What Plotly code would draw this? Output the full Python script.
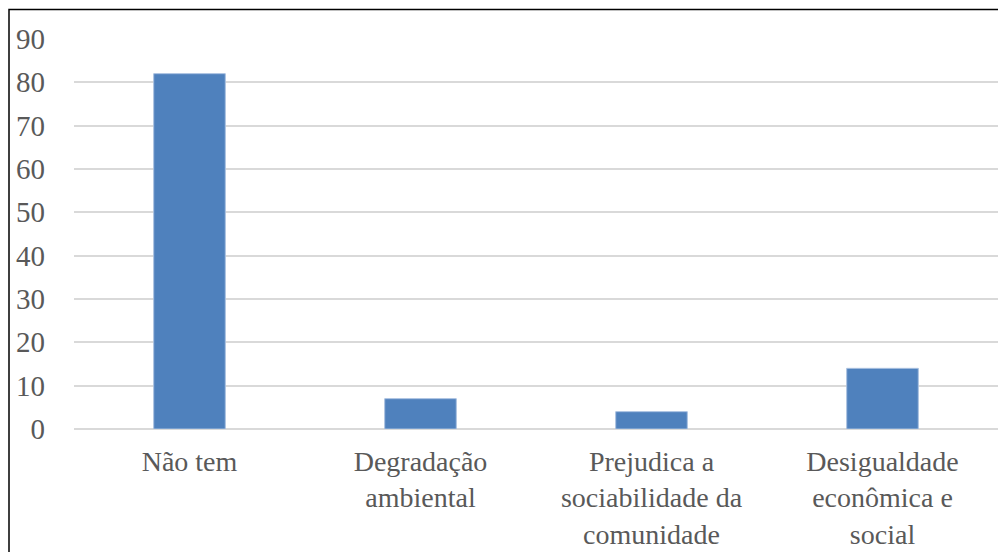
import plotly.graph_objects as go

categories = ["Não tem", "Degradação<br>ambiental", "Prejudica a<br>sociabilidade da<br>comunidade", "Desigualdade<br>econômica e<br>social"]
values = [82, 7, 4, 14]

# page has an 8px body margin; size figure to fit inside the 1006x560 window
W, H = 990, 544
OFF = 8
L, R, T, B = 74 - OFF, 0, 39 - OFF, 552 - 429
pw = W - L - R
ph = H - T - B

fig = go.Figure(go.Bar(
    x=categories, y=values,
    marker=dict(color="#4f81bd", line=dict(color="#a9c1e0", width=1)),
))

font_family = "'Liberation Serif', 'DejaVu Serif', serif"
fig.update_layout(
    width=W, height=H,
    margin=dict(l=L, r=R, t=T, b=B, pad=0),
    paper_bgcolor="white", plot_bgcolor="white",
    bargap=0.69,
    showlegend=False,
    font=dict(family=font_family, size=29, color="#595959"),
    xaxis=dict(showgrid=False, showline=False, ticks="", ticklabelstandoff=13, automargin=False,
               tickfont=dict(family=font_family, size=28, color="#595959")),
    yaxis=dict(range=[0, 90], dtick=10, showgrid=True, gridcolor="#d9d9d9", gridwidth=1.5,
               zeroline=True, zerolinecolor="#d9d9d9", zerolinewidth=1.5, automargin=False,
               showline=False, ticks="", ticklabelstandoff=28,
               tickfont=dict(family=font_family, size=29, color="#595959")),
    shapes=[dict(type="rect", xref="paper", yref="paper",
                 x0=(1 - L) / pw, x1=1.05, y0=-0.6, y1=(H - B - (9.5 - OFF)) / ph,
                 line=dict(color="black", width=1.5), fillcolor="rgba(0,0,0,0)", layer="above")],
)

fig.write_html("out.html")
